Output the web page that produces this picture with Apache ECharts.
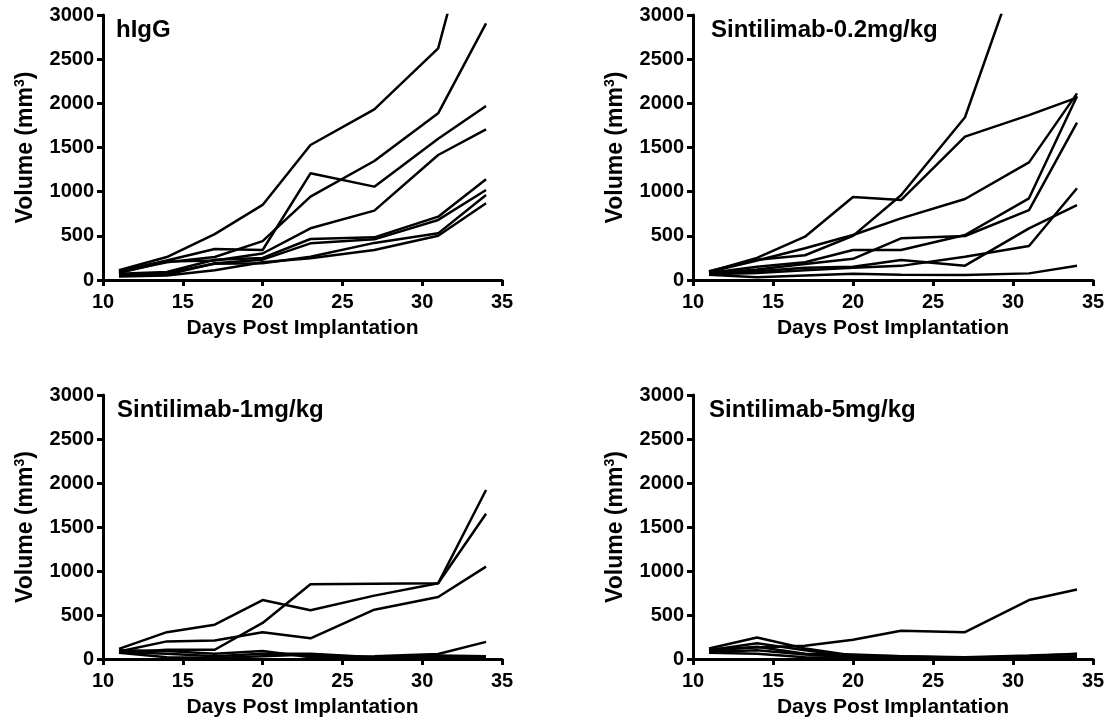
<!DOCTYPE html>
<html><head><meta charset="utf-8">
<script src="https://cdn.jsdelivr.net/npm/echarts@6/dist/echarts.min.js"></script>
<style>html,body{margin:0;padding:0;background:#fff}#c{width:1112px;height:722px}</style>
</head><body><div id="c"></div>
<script>
// ---- data ----
const days = [11, 14, 17, 20, 23, 27, 31, 34];
const xTickInterval = 5;
const yTickInterval = 500;
const panelTitles = ['hIgG', 'Sintilimab-0.2mg/kg', 'Sintilimab-1mg/kg', 'Sintilimab-5mg/kg'];
const xTitle = 'Days Post Implantation';
const yTitleMain = 'Volume (mm';
const yTitleSup = '3';

const hIgG = [
  [110, 260, 520, 850, 1528, 1932, 2623, 4640],
  [100, 220, 350, 340, 1208, 1057, 1600, 1970],
  [90, 200, 260, 440, 943, 1347, 1887, 2906],
  [80, 210, 220, 300, 585, 785, 1415, 1705],
  [70, 90, 230, 250, 464, 483, 717, 1140],
  [60, 60, 190, 230, 415, 460, 680, 1019],
  [50, 80, 185, 190, 264, 420, 528, 962],
  [40, 50, 110, 200, 245, 340, 500, 868]
];
const sinti02 = [
  [100, 230, 280, 500, 960, 1842, 3900, 5000],
  [95, 250, 490, 940, 905, 1623, 1867, 2064],
  [90, 220, 360, 510, 698, 917, 1332, 2113],
  [80, 150, 200, 340, 340, 509, 925, 2080],
  [75, 120, 180, 240, 472, 498, 792, 1781],
  [70, 100, 140, 150, 226, 162, 585, 849],
  [65, 80, 110, 140, 160, 264, 385, 1038],
  [60, 30, 50, 70, 60, 57, 75, 162]
];
const sinti1 = [
  [115, 305, 390, 670, 555, 720, 860, 1920],
  [70, 105, 105, 410, 850, 855, 860, 1650],
  [85, 200, 210, 305, 235, 560, 705, 1050],
  [100, 90, 60, 90, 20, 30, 57, 195],
  [80, 60, 30, 60, 60, 20, 40, 30],
  [70, 20, 10, 30, 50, 10, 20, 10]
];
const sinti5 = [
  [110, 130, 150, 218, 320, 305, 670, 790],
  [120, 245, 120, 40, 30, 15, 30, 60],
  [100, 180, 100, 30, 20, 10, 20, 30],
  [90, 140, 60, 50, 30, 20, 40, 57],
  [80, 100, 50, 20, 10, 5, 10, 20],
  [70, 60, 20, 10, 5, 5, 5, 10]
];
const groups = [hIgG, sinti02, sinti1, sinti5];

// ---- layout ----
const FONT = '"Liberation Sans", Arial, sans-serif';
const grids = [
  {left: 103, top: 15, width: 399, height: 265},
  {left: 693, top: 15, width: 400, height: 265},
  {left: 103, top: 395, width: 399, height: 264},
  {left: 693, top: 395, width: 400, height: 264}
];
const titleOffsets = [13, 18, 14, 16];

const axisLine = {show: true, onZero: false, lineStyle: {color: '#000', width: 3}};
const axisTick = {show: true, length: 6, lineStyle: {color: '#000', width: 3}};
const labelStyle = {color: '#000', fontSize: 20, fontWeight: 'bold', fontFamily: FONT};

const xAxes = grids.map((g, i) => ({
  type: 'value', gridIndex: i, min: 10, max: 35, interval: xTickInterval,
  axisLine, axisTick, splitLine: {show: false},
  axisLabel: Object.assign({margin: 12, formatter: v => String(v)}, labelStyle),
  name: xTitle, nameLocation: 'middle', nameGap: 38,
  nameTextStyle: {color: '#000', fontSize: 21, fontWeight: 'bold', fontFamily: FONT}
}));
const yAxes = grids.map((g, i) => ({
  type: 'value', gridIndex: i, min: 0, max: 3000, interval: yTickInterval,
  axisLine, axisTick, splitLine: {show: false},
  axisLabel: Object.assign({margin: 9, formatter: v => String(v)}, labelStyle),
  name: '{a|' + yTitleMain + '}{s|' + yTitleSup + '}{a|)}',
  nameLocation: 'middle', nameGap: 64,
  nameTextStyle: {
    color: '#000', fontSize: 23, fontWeight: 'bold', fontFamily: FONT,
    rich: {
      a: {color: '#000', fontSize: 23, fontWeight: 'bold', fontFamily: FONT, lineHeight: 26},
      s: {color: '#000', fontSize: 14, fontWeight: 'bold', fontFamily: FONT, lineHeight: 14, verticalAlign: 'top'}
    }
  }
}));

const series = [];
groups.forEach((grp, gi) => {
  grp.forEach((vals) => {
    series.push({
      type: 'line', xAxisIndex: gi, yAxisIndex: gi,
      data: days.map((d, j) => [d, vals[j]]),
      showSymbol: false, symbol: 'none', clip: true, silent: true,
      lineStyle: {color: '#000', width: 2.5},
      animation: false
    });
  });
});

const titles = grids.map((g, i) => ({
  text: panelTitles[i], left: g.left + titleOffsets[i], top: g.top + 3, padding: 0,
  textStyle: {color: '#000', fontSize: 24, fontWeight: 'bold', fontFamily: FONT}
}));

const chart = echarts.init(document.getElementById('c'), null, {renderer: 'canvas'});
chart.setOption({
  backgroundColor: '#fff',
  animation: false,
  title: titles,
  grid: grids,
  xAxis: xAxes,
  yAxis: yAxes,
  series
});
</script></body></html>
